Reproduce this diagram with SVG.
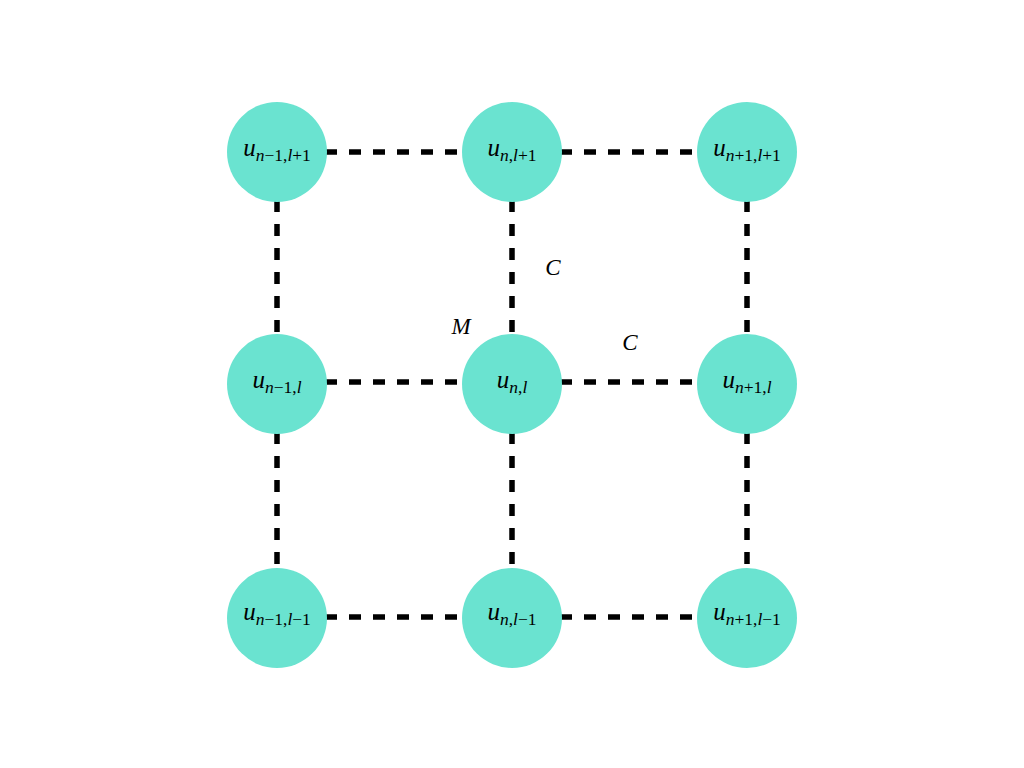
<svg xmlns="http://www.w3.org/2000/svg" width="1024" height="768" viewBox="0 0 1024 768">
<style>
.n{fill:#6ae3d0}
.e{stroke:#000;stroke-width:5.5;stroke-dasharray:12 12;fill:none}
.t{font-family:"Liberation Serif","DejaVu Serif",serif;font-size:25px;text-anchor:middle;fill:#000}
.i{font-style:italic}
.s{font-size:17.5px}
.m{font-size:23px}
</style>
<rect width="1024" height="768" fill="#fff"/>
<g id="connectors">
<line class="e" x1="277" y1="152" x2="512" y2="152"/>
<line class="e" x1="512" y1="152" x2="747" y2="152"/>
<line class="e" x1="277" y1="382" x2="512" y2="382"/>
<line class="e" x1="512" y1="382" x2="747" y2="382"/>
<line class="e" x1="277" y1="617" x2="512" y2="617"/>
<line class="e" x1="512" y1="617" x2="747" y2="617"/>
<line class="e" x1="277" y1="152" x2="277" y2="384"/>
<line class="e" x1="277" y1="384" x2="277" y2="618"/>
<line class="e" x1="512" y1="152" x2="512" y2="384"/>
<line class="e" x1="512" y1="384" x2="512" y2="618"/>
<line class="e" x1="747" y1="152" x2="747" y2="384"/>
<line class="e" x1="747" y1="384" x2="747" y2="618"/>
</g>
<g id="n1"><circle class="n" cx="277" cy="152" r="50"/><text class="t" x="277" y="156"><tspan class="i">u</tspan><tspan class="s" dy="5"><tspan class="i">n</tspan>−1,<tspan class="i">l</tspan>+1</tspan></text></g>
<g id="n2"><circle class="n" cx="512" cy="152" r="50"/><text class="t" x="512" y="156"><tspan class="i">u</tspan><tspan class="s" dy="5"><tspan class="i">n</tspan>,<tspan class="i">l</tspan>+1</tspan></text></g>
<g id="n3"><circle class="n" cx="747" cy="152" r="50"/><text class="t" x="747" y="156"><tspan class="i">u</tspan><tspan class="s" dy="5"><tspan class="i">n</tspan>+1,<tspan class="i">l</tspan>+1</tspan></text></g>
<g id="n4"><circle class="n" cx="277" cy="384" r="50"/><text class="t" x="277" y="388"><tspan class="i">u</tspan><tspan class="s" dy="5"><tspan class="i">n</tspan>−1,<tspan class="i">l</tspan></tspan></text></g>
<g id="n5"><circle class="n" cx="512" cy="384" r="50"/><text class="t" x="512" y="388"><tspan class="i">u</tspan><tspan class="s" dy="5"><tspan class="i">n</tspan>,<tspan class="i">l</tspan></tspan></text></g>
<g id="n6"><circle class="n" cx="747" cy="384" r="50"/><text class="t" x="747" y="388"><tspan class="i">u</tspan><tspan class="s" dy="5"><tspan class="i">n</tspan>+1,<tspan class="i">l</tspan></tspan></text></g>
<g id="n7"><circle class="n" cx="277" cy="618" r="50"/><text class="t" x="277" y="620"><tspan class="i">u</tspan><tspan class="s" dy="5"><tspan class="i">n</tspan>−1,<tspan class="i">l</tspan>−1</tspan></text></g>
<g id="n8"><circle class="n" cx="512" cy="618" r="50"/><text class="t" x="512" y="620"><tspan class="i">u</tspan><tspan class="s" dy="5"><tspan class="i">n</tspan>,<tspan class="i">l</tspan>−1</tspan></text></g>
<g id="n9"><circle class="n" cx="747" cy="618" r="50"/><text class="t" x="747" y="620"><tspan class="i">u</tspan><tspan class="s" dy="5"><tspan class="i">n</tspan>+1,<tspan class="i">l</tspan>−1</tspan></text></g>
<g id="labels">
<text class="t i m" x="461" y="334">M</text>
<text class="t i m" x="553" y="275">C</text>
<text class="t i m" x="630" y="350">C</text>
</g>
</svg>
